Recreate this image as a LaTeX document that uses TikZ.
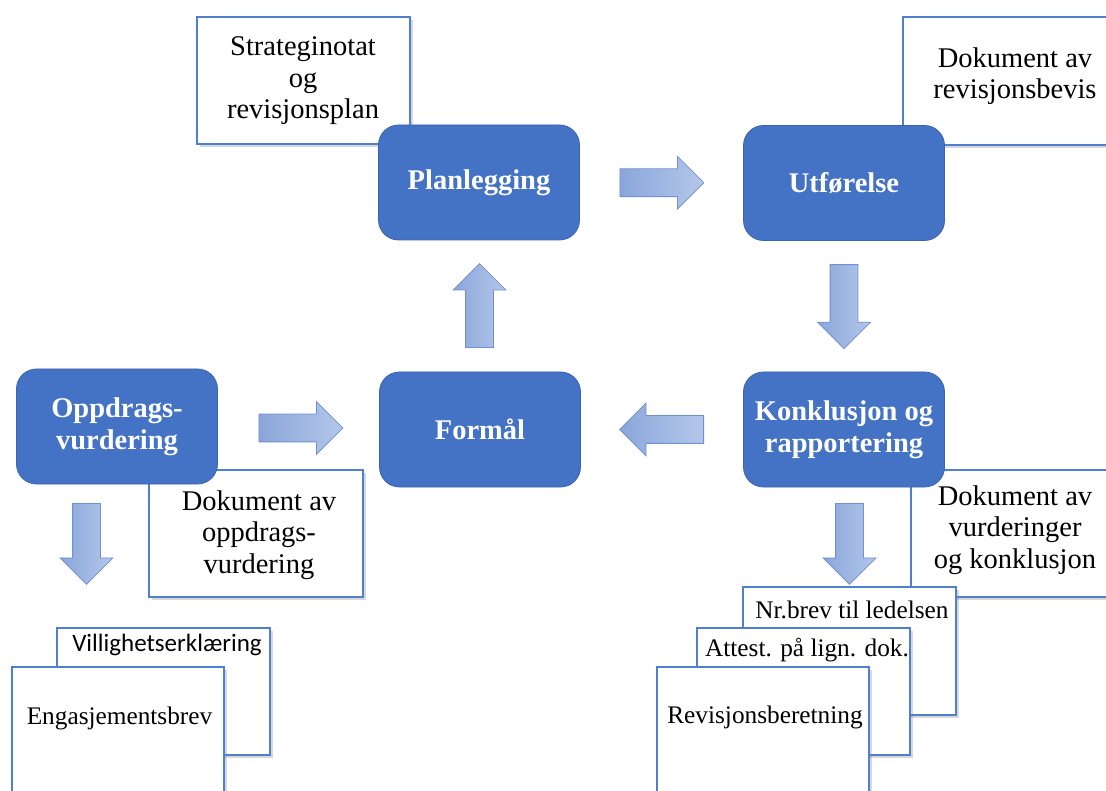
\documentclass[tikz,border=0pt]{standalone}
\usepackage{fontspec}
\setmainfont{Liberation Serif}
\newfontfamily\calib{Carlito}
\usetikzlibrary{shapes.arrows,shadows,calc}
\definecolor{boxblue}{HTML}{4472C4}
\definecolor{boxedge}{HTML}{3B64B0}
\definecolor{arrdark}{HTML}{8AA6DA}
\definecolor{arrlight}{HTML}{B4C7E9}
\definecolor{arredge}{HTML}{6F90D2}
\definecolor{docedge}{HTML}{4F7FD0}
\tikzset{
 phase/.style={draw=boxedge, line width=0.8pt, fill=boxblue, rounded corners=20pt, minimum width=201pt, minimum height=115pt, text=white, font=\fontsize{28.5}{32}\selectfont\bfseries, align=center, inner sep=0pt},
 doc/.style={draw=docedge, line width=1.3pt, fill=white, drop shadow={shadow xshift=3pt, shadow yshift=-3pt, opacity=0.3}, inner sep=0pt},
 doctext/.style={font=\fontsize{28.5}{31.5}\selectfont, align=center, inner sep=0pt},
 smalltext/.style={font=\fontsize{25.3}{28}\selectfont, inner sep=0pt},
 blockarrow/.style={single arrow, anchor=tail, draw=arredge, line width=0.8pt, left color=arrdark, right color=arrlight, minimum height=84pt, single arrow head extend=12.5pt, single arrow head indent=0pt, single arrow tip angle=90, inner xsep=0pt, inner ysep=13.5pt},
}
\begin{document}
\begin{tikzpicture}[x=1pt,y=-1pt]
\useasboundingbox (0,0) rectangle (1106,791);
\fill[white] (0,0) rectangle (1106,791);
% document boxes behind the phases
\node[doc, minimum width=213pt, minimum height=127pt] (strat) at (303.5,80.5) {};
\node[doctext] (strattxt) at (303,81) {Strateginotat\\og\\revisjonsplan};
\node[doc, minimum width=230pt, minimum height=128pt] (bevis) at (1018,81) {};
\node[doctext] (bevistxt) at (1015,76) {Dokument av\\revisjonsbevis};
\node[doc, minimum width=214pt, minimum height=127pt] (oppdoc) at (256,533.5) {};
\node[doctext] (oppdoctxt) at (259,535) {Dokument av\\oppdrags-\\vurdering};
\node[doc, minimum width=220pt, minimum height=127pt] (vurd) at (1021,533.5) {};
\node[doctext] (vurdtxt) at (1015,530) {Dokument av\\vurderinger\\og konklusjon};
% phases
\node[phase] (plan) at (479,182.5) {Planlegging};
\node[phase] (utf) at (844,183) {Utførelse};
\node[phase] (konk) at (844,429.5) {Konklusjon og\\rapportering};
\node[phase] (form) at (480,429.5) {Formål};
\node[phase] (oppd) at (117,426.5) {Oppdrags-\\vurdering};
% block arrows (tail placed 42pt before the midpoint of the gap)
\node[blockarrow] (a1) at ($(plan.east)!0.5!(utf.west)+(-42,0)$) {};
\node[blockarrow, rotate=-90] (a2) at ($(utf.south)!0.5!(konk.north)+(0,-42)$) {};
\node[blockarrow, rotate=180] (a3) at ($(konk.west)!0.5!(form.east)+(42,0)$) {};
\node[blockarrow, rotate=90] (a4) at ($(form.north)!0.5!(plan.south)+(0,42)$) {};
\node[blockarrow] (a5) at ($(oppd.east)!0.5!(form.west)+(-40,0)$) {};
\coordinate (c6) at (86.5,503);
\node[blockarrow, rotate=-90, minimum height=81pt] (a6) at (c6) {};
\coordinate (c7) at (849.5,503);
\node[blockarrow, rotate=-90, minimum height=81pt] (a7) at (c7) {};
% output documents
\node[doc, minimum width=213pt, minimum height=128pt] (nrbrev) at (849.5,651) {};
\node[smalltext] (nrbrevtxt) at (852,610) {Nr.brev til ledelsen};
\node[doc, minimum width=213pt, minimum height=127pt] (attest) at (803.5,691.5) {};
\node[smalltext] (attesttxt) at (807,650) {Attest. på lign. dok.};
\node[doc, minimum width=212pt, minimum height=150pt] (revber) at (763,742) {};
\node[smalltext] (revbertxt) at (765,717) {Revisjonsberetning};
\node[doc, minimum width=213pt, minimum height=127pt] (villig) at (163.5,691.5) {};
\node[font=\calib\fontsize{25}{28}\selectfont, inner sep=0pt] (villigtxt) at (167,645) {Villighetserklæring};
\node[doc, minimum width=212pt, minimum height=150pt] (engas) at (118,742) {};
\node[smalltext] (engastxt) at (119.5,718) {Engasjementsbrev};
\end{tikzpicture}
\end{document}
